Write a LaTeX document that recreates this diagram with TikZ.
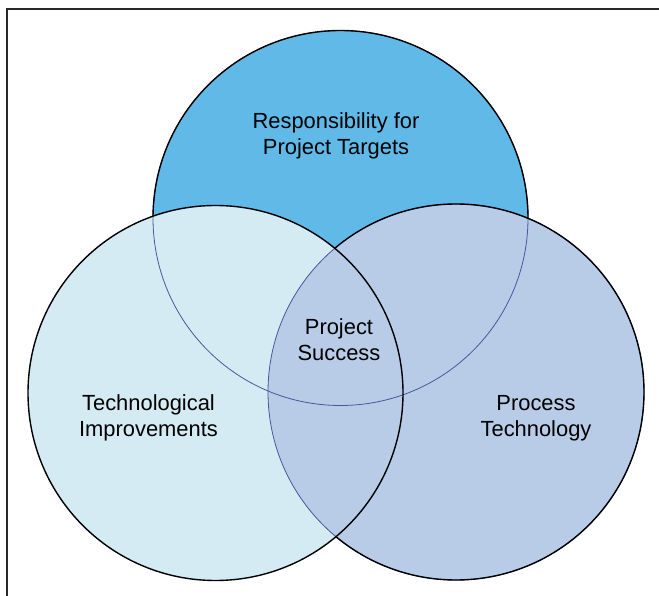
\documentclass[tikz,border=0pt]{standalone}
\usepackage{fontspec}
\setmainfont{Liberation Sans}
\definecolor{topblue}{RGB}{96,185,231}
\definecolor{leftblue}{RGB}{212,235,243}
\definecolor{rightblue}{RGB}{184,204,232}
\definecolor{hidline}{RGB}{75,85,155}
\definecolor{framegray}{RGB}{40,40,40}
\tikzset{
  lbl/.style={align=center, font=\fontsize{21.9}{26}\selectfont, text=black, inner sep=0pt},
  outline/.style={draw=black, line width=1.4pt},
  hidden/.style={draw=hidline, line width=0.8pt},
}
\begin{document}
\begin{tikzpicture}[x=1pt,y=-1pt]
\useasboundingbox (0,0) rectangle (659,596);
\fill[white] (0,0) rectangle (659,596);
% frame (top and left edges)
\draw[framegray, line width=2pt] (7,596) -- (7,9) -- (659,9);
% circle centres
\coordinate (ct) at (340.5,218);
\coordinate (cl) at (215.5,393);
\coordinate (cr) at (456,392);
% fills
\fill[topblue] (ct) circle (187.5);
\fill[leftblue] (cl) circle (187.5);
\fill[rightblue] (cr) circle (188);
% hidden outlines
\draw[hidden] (ct) circle (187.5);
\draw[hidden] (cr) circle (188);
% right circle outline outside left circle
\begin{scope}[even odd rule]
  \clip (0,0) rectangle (659,596) (cl) circle (187.5);
  \draw[outline] (cr) circle (188);
\end{scope}
% left circle outline
\draw[outline] (cl) circle (187.5);
% top circle outline outside left and right circles
\begin{scope}[even odd rule]
  \clip (0,0) rectangle (659,596) (cl) circle (187.5);
  \clip (0,0) rectangle (659,596) (cr) circle (188);
  \draw[outline] (ct) circle (187.5);
\end{scope}
% labels
\node[lbl] (resp) at (336,135.5) {Responsibility for\\Project Targets};
\node[lbl] (succ) at (339,340) {Project\\Success};
\node[lbl] (tech) at (148.5,418) {Technological\\Improvements};
\node[lbl] (proc) at (536,418) {Process\\Technology};
\end{tikzpicture}
\end{document}
